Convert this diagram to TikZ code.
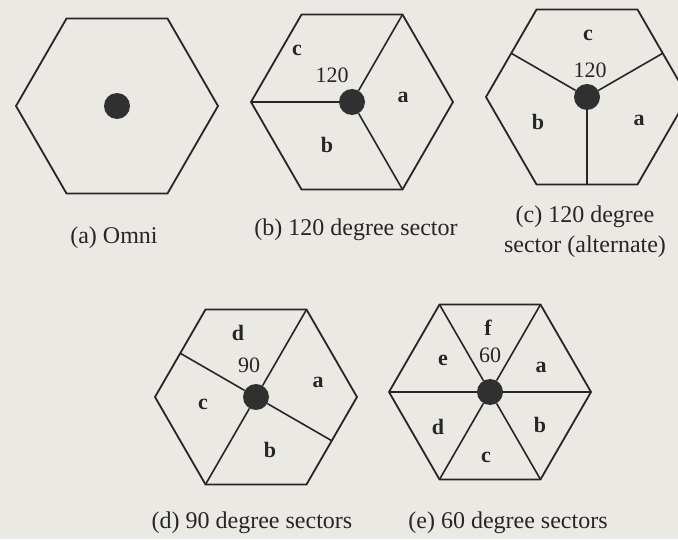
\documentclass[tikz,border=0pt]{standalone}
\usepackage{fontspec}
\setmainfont{Liberation Serif}
\usepackage{tikz}
\usetikzlibrary{positioning}
\definecolor{paper}{RGB}{235,233,228}
\definecolor{ink}{RGB}{38,38,38}
\definecolor{dotgray}{RGB}{48,48,48}
\tikzset{
  cell/.style={draw=ink, line width=1.8pt, line join=miter},
  spoke/.style={draw=ink, line width=1.6pt},
  bts/.style={circle, fill=dotgray, minimum size=26pt, inner sep=0pt},
  seclabel/.style={font=\fontsize{22}{24}\selectfont\bfseries, text=ink, inner sep=0pt},
  anglabel/.style={font=\fontsize{22}{24}\selectfont, text=ink, inner sep=0pt},
  caption/.style={font=\fontsize{24}{30}\selectfont, text=ink, align=center, inner sep=0pt}
}
\newcommand{\hexr}{101}

\begin{document}
\begin{tikzpicture}[x=1pt,y=1pt]
  \fill[paper] (0,0) rectangle (678,539);
  \useasboundingbox (0,0) rectangle (678,539);
  % cells, their corners, edge midpoints and the base station
  \foreach \n/\cx/\cy in {a/117/433, b/352/437, c/587/442, d/256/142, e/490/147} {
    \coordinate (\n) at (\cx,\cy);
    \foreach \k in {0,...,5} {
      \path (\n) +(\k*60:\hexr) coordinate (\n-v\k);
      \path (\n) +(\k*60+30:0.866*\hexr) coordinate (\n-m\k);
    }
    \draw[cell] (\n-v0) -- (\n-v1) -- (\n-v2) -- (\n-v3) -- (\n-v4) -- (\n-v5) -- cycle;
    \node[bts] (\n-bts) at (\n) {};
  }
  % (b) 120 degree sector
  \draw[spoke] (b-bts) -- (b-v1);
  \draw[spoke] (b-bts) -- (b-v3);
  \draw[spoke] (b-bts) -- (b-v5);
  % (c) alternate, to edge midpoints
  \draw[spoke] (c-bts) -- (c-m0);
  \draw[spoke] (c-bts) -- (c-m2);
  \draw[spoke] (c-bts) -- (c-m4);
  % (d) 90 degree sectors
  \draw[spoke] (d-bts) -- (d-v1);
  \draw[spoke] (d-bts) -- (d-m2);
  \draw[spoke] (d-bts) -- (d-v4);
  \draw[spoke] (d-bts) -- (d-m5);
  % (e) 60 degree sectors
  \foreach \k in {0,...,5} \draw[spoke] (e-bts) -- (e-v\k);
  % sector labels
  \node[seclabel] (b-c) at (297,489) {c};
  \node[anglabel] (b-ang) at (332,464) {120};
  \node[seclabel] (b-a) at (403,442) {a};
  \node[seclabel] (b-b) at (327,394) {b};
  \node[seclabel] (c-c) at (588,504) {c};
  \node[anglabel] (c-ang) at (590,469) {120};
  \node[seclabel] (c-b) at (538,417) {b};
  \node[seclabel] (c-a) at (639,419) {a};
  \node[seclabel] (d-d) at (238,206) {d};
  \node[anglabel] (d-ang) at (249,174) {90};
  \node[seclabel] (d-a) at (318,157) {a};
  \node[seclabel] (d-c) at (203,135) {c};
  \node[seclabel] (d-b) at (270,89) {b};
  \node[seclabel] (e-f) at (488,211) {f};
  \node[anglabel] (e-ang) at (490,184) {60};
  \node[seclabel] (e-e) at (443,179) {e};
  \node[seclabel] (e-a) at (541,172) {a};
  \node[seclabel] (e-d) at (438,112) {d};
  \node[seclabel] (e-b) at (540,114) {b};
  \node[seclabel] (e-c) at (486,82) {c};
  % captions
  \node[caption] (a-cap) at (114,301) {(a) Omni};
  \node[caption] (b-cap) at (356,309) {(b) 120 degree sector};
  \node[caption] (c-cap) at (585,307) {(c) 120 degree\\sector (alternate)};
  \node[caption] (d-cap) at (252,16) {(d) 90 degree sectors};
  \node[caption] (e-cap) at (508,16) {(e) 60 degree sectors};
\end{tikzpicture}
\end{document}
